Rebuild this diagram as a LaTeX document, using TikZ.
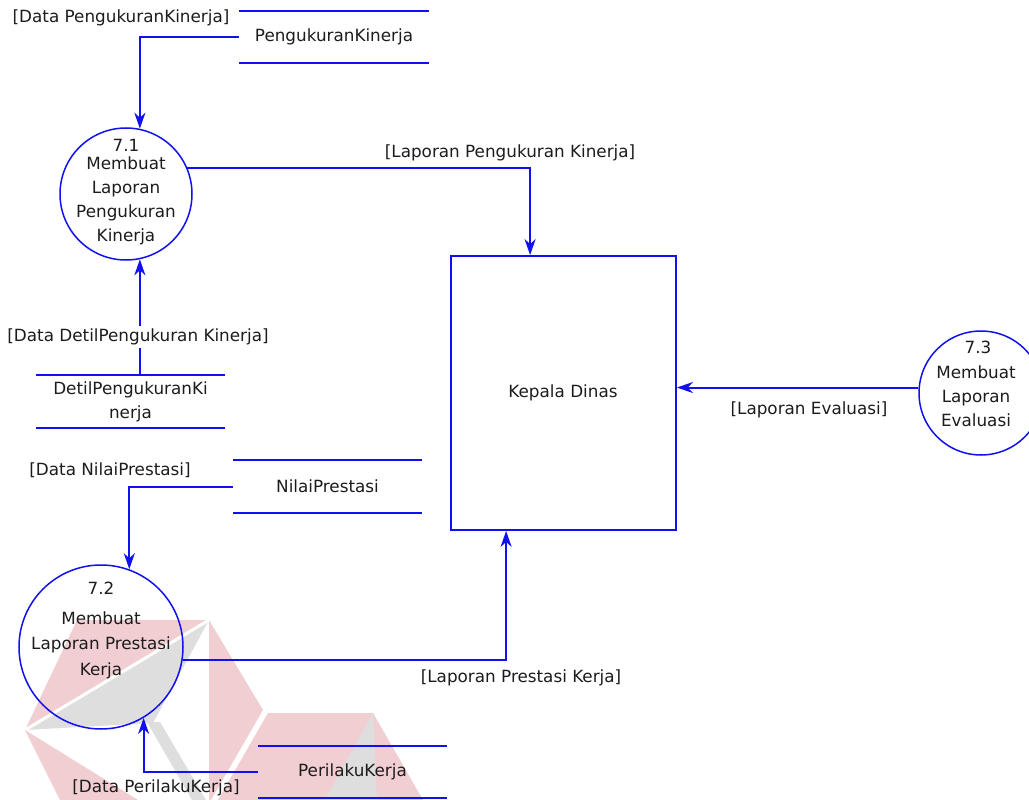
\documentclass[tikz,border=0pt]{standalone}
\usepackage{fontspec}
\setmainfont{DejaVu Sans}
\usetikzlibrary{arrows.meta,calc}
\definecolor{flowblue}{RGB}{16,16,240}
\definecolor{wmpink}{RGB}{241,206,210}
\definecolor{wmgray}{RGB}{222,222,222}
\definecolor{inktext}{RGB}{28,28,28}
\begin{document}
\begin{tikzpicture}[x=1pt,y=-1pt,
  txt/.style={font=\fontsize{16.8}{24}\selectfont, text=inktext, inner sep=0pt, align=center},
  proc/.style={draw=flowblue, line width=1.5pt, circle, inner sep=0pt},
  entity/.style={draw=flowblue, line width=1.8pt, rectangle, inner sep=0pt,
                 minimum width=225pt, minimum height=274pt},
  store/.style={txt, minimum width=189pt, minimum height=52pt},
  storeline/.style={draw=flowblue, line width=2pt},
  flow/.style={draw=flowblue, line width=2pt,
               -{Stealth[length=16pt,width=11pt,inset=5pt]}},
  lbl/.style={txt},
]
\useasboundingbox (0,0) rectangle (1029,800);

% background logo mark
\fill[wmpink] (25,730) -- (77,620) -- (209,620) -- cycle;
\fill[wmgray] (25,730) -- (209,620) -- (153,723) -- cycle;
\draw[white, line width=3pt] (25,730) -- (209,620);
\fill[wmgray] (147,722) -- (160,722) -- (206,800) -- (192,800) -- cycle;
\fill[wmpink] (25,730) -- (60,800) -- (138,800) -- cycle;
\fill[wmpink] (209,620) -- (263,710) -- (211,800) -- (209,800) -- cycle;
\fill[wmpink] (268,713) -- (373,713) -- (423,800) -- (218,800) -- cycle;
\fill[wmgray] (373,713) -- (325,800) -- (377,800) -- cycle;

% processes
\node[proc, minimum size=132pt] (c71) at (126,194) {};
\node[txt] (n71) at (126,145) {7.1};
\node[txt] (t71) at (126,201) {Membuat\\Laporan\\Pengukuran\\Kinerja};

\node[proc, minimum size=164pt] (c72) at (101,647) {};
\node[txt] (n72) at (101,588) {7.2};
\node[txt, font=\fontsize{16.8}{25.5}\selectfont] (t72) at (101,645)
  {Membuat\\Laporan Prestasi\\Kerja};

\node[proc, minimum size=124pt] (c73) at (981,393) {};
\node[txt] (n73) at (978,347) {7.3};
\node[txt] (t73) at (976,396) {Membuat\\Laporan\\Evaluasi};

% external entity
\node[entity] (kd) at (563.5,393) {};
\node[txt] (tkd) at (563,393) {Kepala Dinas};

% data stores
\node[store] (s1) at (334,37) {PengukuranKinerja};
\node[store] (s2) at (130.5,401.5) {DetilPengukuranKi\\nerja};
\node[store] (s3) at (327.5,486.5) {NilaiPrestasi};
\node[store] (s4) at (352.5,772) {PerilakuKerja};
\foreach \s in {s1,s2,s3,s4}{
  \draw[storeline] (\s.north west) -- (\s.north east)
                   (\s.south west) -- (\s.south east);
}

% entry points on the entity
\coordinate (kdtop) at ($(kd.north west)+(80,0)$);
\coordinate (kdbot) at ($(kd.south west)+(56,0)$);

% data flows
\draw[flow] (s1.west) -| (c71.78);
\draw[flow] (c71.23) -| (kdtop);
\draw[flow] (c71.-78 |- s2.north) -- (c71.-78);
\draw[flow] (s3.west) -| (c72.70);
\draw[flow] (c72.-9) -| (kdbot);
\draw[flow] (c73.175) -- (c73.175 -| kd.east);
\draw[flow] (s4.west) -| (c72.-59);

% flow labels
\node[lbl] (l1) at (121,18) {[Data PengukuranKinerja]};
\node[lbl] (l2) at (510,153) {[Laporan Pengukuran Kinerja]};
\node[lbl, fill=white, inner ysep=3pt] (l3) at (138,337) {[Data DetilPengukuran Kinerja]};
\node[lbl] (l4) at (110,470) {[Data NilaiPrestasi]};
\node[lbl] (l5) at (809,410) {[Laporan Evaluasi]};
\node[lbl] (l6) at (521,678) {[Laporan Prestasi Kerja]};
\node[lbl] (l7) at (156,788) {[Data PerilakuKerja]};
\end{tikzpicture}
\end{document}
